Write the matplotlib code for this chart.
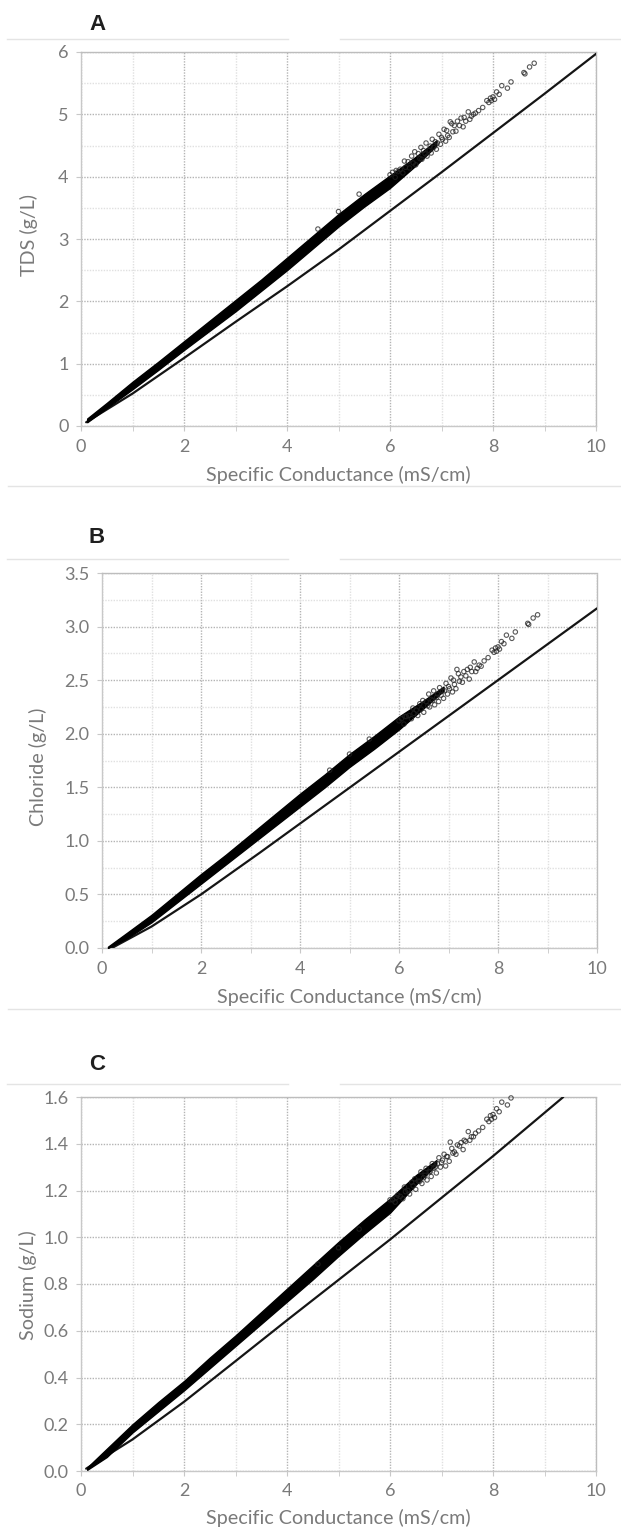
import matplotlib
matplotlib.use('Agg')
import matplotlib.pyplot as plt
from matplotlib.lines import Line2D
from matplotlib.ticker import MultipleLocator, FormatStrFormatter

plt.rcParams['font.family'] = ['Lato', 'DejaVu Sans']

W, H = 621, 1529

# sparse samples (same x in every panel)
sc = [8.80,8.71,8.62,8.60,8.35,8.28,8.17,8.12,8.07,8.03,8.00,7.97,7.95,7.92,7.88,7.80,7.72,7.62,7.52,7.44,
      7.38,7.31,7.25,7.20,7.17,7.10,7.05,7.00,6.95,6.88,6.82,6.78,6.70,6.65,6.60,6.55,6.48,6.42,6.35,6.28,
      6.20,6.12,6.05,5.40,5.00,4.60,
      6.00,6.10,6.15,6.25,6.30,6.38,6.45,6.50,6.58,6.62,6.68,6.72,6.76,6.80,6.85,6.90,6.92,6.98,7.02,7.08,
      7.12,7.15,7.22,7.28,7.35,7.42,7.47,7.55,7.58,7.66]
tds = [5.82,5.76,5.65,5.67,5.52,5.42,5.46,5.32,5.36,5.24,5.28,5.22,5.26,5.19,5.22,5.11,5.06,5.00,5.04,4.95,
       4.94,4.89,4.82,4.85,4.88,4.74,4.76,4.63,4.68,4.56,4.60,4.49,4.54,4.42,4.47,4.37,4.40,4.33,4.24,4.25,
       4.12,4.10,4.07,3.72,3.44,3.16,
       4.03,3.99,4.08,4.06,4.15,4.14,4.22,4.19,4.29,4.28,4.37,4.33,4.42,4.38,4.47,4.44,4.54,4.52,4.60,4.57,
       4.66,4.63,4.72,4.73,4.82,4.80,4.89,4.92,4.97,5.02]
chloride = [3.11,3.08,3.02,3.03,2.95,2.89,2.92,2.84,2.86,2.79,2.81,2.77,2.80,2.76,2.78,2.71,2.68,2.64,2.67,2.62,
            2.60,2.58,2.53,2.56,2.60,2.50,2.52,2.44,2.47,2.40,2.43,2.37,2.40,2.32,2.37,2.30,2.31,2.28,2.22,2.24,
            2.17,2.16,2.14,1.95,1.81,1.66,
            2.12,2.09,2.16,2.14,2.19,2.17,2.23,2.20,2.26,2.25,2.31,2.27,2.34,2.30,2.36,2.33,2.40,2.37,2.42,2.39,
            2.46,2.42,2.49,2.48,2.54,2.51,2.58,2.58,2.61,2.63]
# panel C stops at the top of the axis, so its samples start at 8.35
sc_na = sc[4:]
sodium = [1.596,1.566,1.578,1.537,1.550,1.512,1.525,1.505,1.520,1.495,1.505,1.470,1.455,1.430,1.452,1.415,
          1.405,1.395,1.365,1.380,1.407,1.345,1.355,1.320,1.340,1.300,1.315,1.280,1.295,1.255,1.280,1.240,
          1.250,1.235,1.200,1.215,1.175,1.170,1.160,1.035,0.955,0.885,
          1.16,1.15,1.18,1.165,1.195,1.185,1.22,1.205,1.24,1.23,1.265,1.245,1.28,1.26,1.295,1.275,1.315,1.30,
          1.33,1.305,1.345,1.325,1.36,1.355,1.39,1.375,1.41,1.415,1.43,1.445]

# edges of the solid band of overlapping samples
band_x = [0.12,0.5,1,1.5,2,2.5,3,3.5,4,4.5,5,5.5,6,6.5,6.9]
tds_low = [0.06,0.29,0.59,0.90,1.22,1.53,1.84,2.17,2.50,2.85,3.20,3.52,3.82,4.18,4.50]
tds_high = [0.12,0.37,0.71,1.03,1.36,1.69,2.02,2.35,2.70,3.05,3.40,3.72,4.02,4.32,4.58]
cl_low = [0.0,0.09,0.24,0.42,0.60,0.78,0.96,1.14,1.32,1.50,1.69,1.86,2.04,2.24,2.40]
cl_high = [0.012,0.14,0.31,0.50,0.69,0.87,1.06,1.25,1.44,1.62,1.81,1.98,2.16,2.31,2.44]
na_low = [0.005,0.06,0.165,0.255,0.345,0.44,0.535,0.63,0.725,0.82,0.92,1.015,1.105,1.225,1.31]
na_high = [0.015,0.095,0.20,0.295,0.385,0.485,0.58,0.68,0.78,0.88,0.98,1.075,1.165,1.265,1.33]

# the reference lines
tds_line_x = [0.1,1,2,3,4,5,6,7,8,9,10]
tds_line_y = [0.06,0.52,1.09,1.67,2.24,2.83,3.45,4.07,4.70,5.33,5.97]
cl_line_x = [0.2,1,2,3.19,8,10]
cl_line_y = [0.0,0.20,0.50,0.89,2.50,3.17]
na_line_x = [0.1,1,2,3,4,6,8,9.365]
na_line_y = [0.01,0.135,0.296,0.47,0.645,0.99,1.347,1.6]

panels = [
    dict(letter='A', ylabel='TDS (g/L)', box=(81, 596, 52, 426), ymax=6, ymaj=1, ymin=0.5, fmt='%d',
         x=sc, y=tds, low=tds_low, high=tds_high, lx=tds_line_x, ly=tds_line_y,
         letter_y=24, sep_y=38.5, xlab_y=475, ylab_x=29, ylab_y=235),
    dict(letter='B', ylabel='Chloride (g/L)', box=(102, 597, 573, 948), ymax=3.5, ymaj=0.5, ymin=0.25, fmt='%.1f',
         x=sc, y=chloride, low=cl_low, high=cl_high, lx=cl_line_x, ly=cl_line_y,
         letter_y=538, sep_y=559, xlab_y=997, ylab_x=38, ylab_y=767),
    dict(letter='C', ylabel='Sodium (g/L)', box=(81, 596, 1097, 1471), ymax=1.6, ymaj=0.2, ymin=None, fmt='%.1f',
         x=sc_na, y=sodium, low=na_low, high=na_high, lx=na_line_x, ly=na_line_y,
         letter_y=1064, sep_y=1084, xlab_y=1518, ylab_x=28, ylab_y=1285),
]

GREY = '#7a7a7a'
fig = plt.figure(figsize=(W / 100, H / 100), dpi=100)

def hline(y, x0, x1):
    fig.add_artist(Line2D([x0 / W, x1 / W], [1 - y / H, 1 - y / H], color='#e4e4e4', lw=1))

for p in panels:
    l, r, t, b = p['box']
    ax = fig.add_axes([l / W, 1 - b / H, (r - l) / W, (b - t) / H])
    ax.set_xlim(0, 10)
    ax.set_ylim(0, p['ymax'])
    ax.xaxis.set_major_locator(MultipleLocator(2))
    ax.xaxis.set_minor_locator(MultipleLocator(1))
    ax.yaxis.set_major_locator(MultipleLocator(p['ymaj']))
    if p['ymin']:
        ax.yaxis.set_minor_locator(MultipleLocator(p['ymin']))
    ax.yaxis.set_major_formatter(FormatStrFormatter(p['fmt']))
    ax.grid(True, which='major', color='#b4b4b4', lw=1, ls=(0, (1, 1)))
    ax.grid(True, which='minor', color='#e0e0e0', lw=1, ls=(0, (1, 1)))
    ax.set_axisbelow(True)
    ax.tick_params(which='both', color='#c8c8c8', labelcolor=GREY, labelsize=13, length=3.5, pad=5.5)
    ax.tick_params(axis='y', which='minor', length=0)
    for s in ax.spines.values():
        s.set_color('#bdbdbd')
        s.set_linewidth(1)
    for s in ['left', 'bottom']:
        ax.spines[s].set_color('#c8c8c8')
    if p['letter'] != 'A':
        ax.spines['top'].set_linestyle((0, (1, 1)))
        ax.spines['right'].set_linestyle((0, (1, 1)))

    ax.plot(p['lx'], p['ly'], color='#151515', lw=1.6, zorder=3, solid_capstyle='round')
    ax.fill_between(band_x, p['low'], p['high'], color='black', lw=1, zorder=4, joinstyle='round')
    ax.scatter(p['x'], p['y'], s=10, facecolors='none', edgecolors='#222222', linewidths=0.8,
               alpha=0.75, zorder=5, clip_on=False)

    fig.text((l + r) / 2 / W, 1 - p['xlab_y'] / H, 'Specific Conductance (mS/cm)', color=GREY,
             fontsize=14.2, ha='center', va='center')
    fig.text(p['ylab_x'] / W, 1 - p['ylab_y'] / H, p['ylabel'], color=GREY, fontsize=14.2,
             rotation=90, ha='center', va='center')
    fig.text(97 / W, 1 - p['letter_y'] / H, p['letter'], color='#1f1f1f', fontsize=16, fontweight='bold',
             family=['Liberation Sans Narrow', 'Liberation Sans'], ha='center', va='center')

    hline(p['sep_y'], 7, 288)
    hline(p['sep_y'], 340, 621)

hline(486, 8, 621)
hline(1009, 8, 621)

fig.savefig('out.png', dpi=100, facecolor='white')
